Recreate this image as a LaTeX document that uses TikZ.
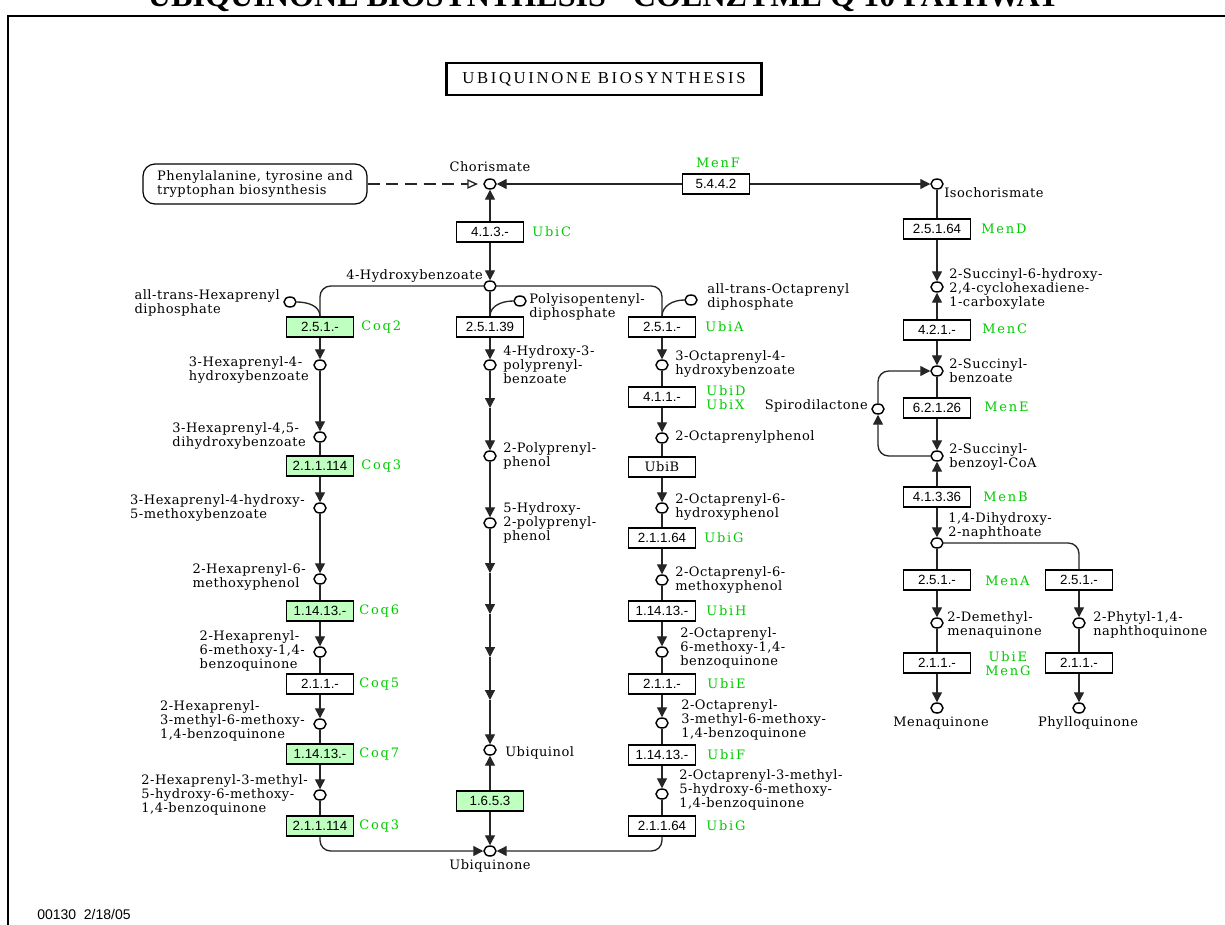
\documentclass[tikz,border=0pt]{standalone}
\usepackage{fontspec}
\setmainfont{DejaVu Serif}
\newfontfamily\cpdf[LetterSpace=4]{DejaVu Serif}
\newfontfamily\ecf{Liberation Sans}
\newfontfamily\genef[LetterSpace=14]{DejaVu Serif}
\newfontfamily\boxtitlef[LetterSpace=16]{Liberation Serif}
\newfontfamily\toptitlef{Liberation Serif}
\usetikzlibrary{arrows.meta,shapes.geometric}
\definecolor{kgreen}{RGB}{0,204,0}
\definecolor{kfill}{RGB}{191,255,191}
\begin{document}
\begin{tikzpicture}[x=0.75pt,y=-0.75pt,
 cpd/.style={ellipse,draw,line width=1.1pt,fill=white,minimum width=9pt,minimum height=7.5pt,inner sep=0pt},
 ecbox/.style={rectangle,draw,line width=1pt,fill=white,minimum width=50pt,minimum height=15pt,inner sep=1pt,font=\ecf\fontsize{10pt}{12pt}\selectfont},
 ecg/.style={ecbox,fill=kfill},
 gene/.style={anchor=west,inner sep=0pt,text=kgreen,font=\genef\fontsize{9.75pt}{10.5pt}\selectfont,align=left},
 lbl/.style={inner sep=0pt,align=left,font=\cpdf\fontsize{9.75pt}{10.5pt}\selectfont},
 rxn/.style={line width=1pt,draw=black!85},
 arr/.style={rxn,-{Triangle[length=7.5pt,width=7.5pt]}},
]
\useasboundingbox (0,0) rectangle (1225,925);
\fill[white] (0,0) rectangle (1225,925);
% frame and titles
\draw[line width=1.5pt] (8,16) rectangle (1240,940);
\node[anchor=base,inner sep=0pt] (toptitle) at (604,6) {\resizebox{684pt}{!}{\toptitlef\bfseries UBIQUINONE BIOSYNTHESIS - COENZYME Q 10 PATHWAY}};
\node[draw,line width=2pt,minimum width=236pt,minimum height=24pt,inner sep=0pt,font=\boxtitlef\fontsize{12.5pt}{14pt}\selectfont] (title) at (604,79) {UBIQUINONE BIOSYNTHESIS};
\node[anchor=west,inner sep=0pt,font=\ecf\fontsize{10.5pt}{12pt}\selectfont] (footer) at (37,914) {00130\ \ 2/18/05};

% top row
\node[cpd] (chor) at (490,184) {};
\node[lbl] (tchor) at (490,167) {Chorismate};
\node[lbl,draw,line width=0.9pt,rounded corners=9pt,minimum width=168pt,minimum height=30pt] (phe) at (255,184) {Phenylalanine, tyrosine and\\tryptophan biosynthesis};
\coordinate (opentip) at (478,184);
\node[ecbox] (ec5442) at (716,184) {5.4.4.2};
\node[gene,anchor=center] (gMenF) at (718,163) {MenF};
\node[cpd] (isoch) at (937,184) {};
\node[lbl,anchor=west] (tisoch) at (944,193) {Isochorismate};
\node[ecbox] (ec413) at (490,232) {4.1.3.-};
\node[gene] (gUbiC) at (532,232) {UbiC};
\node[cpd] (hb) at (490,286) {};
\node[lbl,anchor=east] (thb) at (483,276) {4-Hydroxybenzoate};

% prenyl diphosphates
\node[cpd] (hexpp) at (290,302) {};
\node[lbl,anchor=east] (thexpp) at (280,303) {all-trans-Hexaprenyl\\diphosphate};
\node[cpd] (polypp) at (520,301) {};
\node[lbl,anchor=west] (tpolypp) at (529,307) {Polyisopentenyl-\\diphosphate};
\node[cpd] (octpp) at (691,300) {};
\node[lbl,anchor=west] (toctpp) at (707,297) {all-trans-Octaprenyl\\diphosphate};

% left column (Coq)
\node[ecg] (coq2) at (320,327) {2.5.1.-};
\node[gene] (gcoq2) at (361,327) {Coq2};
\node[cpd] (c1) at (320,365) {};
\node[lbl,anchor=east] (tc1) at (309,370) {3-Hexaprenyl-4-\\hydroxybenzoate};
\node[cpd] (c2) at (320,437) {};
\node[lbl,anchor=east] (tc2) at (306,436) {3-Hexaprenyl-4,5-\\dihydroxybenzoate};
\node[ecg] (coq3a) at (320,466) {2.1.1.114};
\node[gene] (gcoq3a) at (361,466) {Coq3};
\node[cpd] (c3) at (320,508) {};
\node[lbl,anchor=east] (tc3) at (305,508) {3-Hexaprenyl-4-hydroxy-\\5-methoxybenzoate};
\node[cpd] (c4) at (320,579) {};
\node[lbl,anchor=east] (tc4) at (306,577) {2-Hexaprenyl-6-\\methoxyphenol};
\node[ecg] (coq6) at (320,611) {1.14.13.-};
\node[gene] (gcoq6) at (359,611) {Coq6};
\node[cpd] (c5) at (320,652) {};
\node[lbl,anchor=east] (tc5) at (305,651) {2-Hexaprenyl-\\6-methoxy-1,4-\\benzoquinone};
\node[ecbox] (coq5) at (320,684) {2.1.1.-};
\node[gene] (gcoq5) at (359,684) {Coq5};
\node[cpd] (c6) at (320,724) {};
\node[lbl,anchor=east] (tc6) at (305,721) {2-Hexaprenyl-\\3-methyl-6-methoxy-\\1,4-benzoquinone};
\node[ecg] (coq7) at (320,754) {1.14.13.-};
\node[gene] (gcoq7) at (359,754) {Coq7};
\node[cpd] (c7) at (320,795) {};
\node[lbl,anchor=east] (tc7) at (308,795) {2-Hexaprenyl-3-methyl-\\5-hydroxy-6-methoxy-\\1,4-benzoquinone};
\node[ecg] (coq3b) at (320,826) {2.1.1.114};
\node[gene] (gcoq3b) at (359,826) {Coq3};

% middle column
\node[ecbox] (ec25139) at (490,327) {2.5.1.39};
\node[cpd] (m1) at (490,365) {};
\node[lbl,anchor=west] (tm1) at (503,365) {4-Hydroxy-3-\\polyprenyl-\\benzoate};
\coordinate (ma0) at (490,408);
\node[cpd] (m2) at (490,456) {};
\node[lbl,anchor=west] (tm2) at (503,456) {2-Polyprenyl-\\phenol};
\node[cpd] (m3) at (490,523) {};
\node[lbl,anchor=west] (tm3) at (503,523) {5-Hydroxy-\\2-polyprenyl-\\phenol};
\coordinate (ma1) at (490,573);
\coordinate (ma2) at (490,614);
\coordinate (ma3) at (490,657);
\coordinate (ma4) at (490,700);
\node[cpd] (uql) at (490,750) {};
\node[lbl,anchor=west] (tuql) at (505,753) {Ubiquinol};
\node[ecg] (ec1653) at (490,801) {1.6.5.3};
\node[cpd] (uq) at (490,851) {};
\node[lbl] (tuq) at (490,866) {Ubiquinone};

% right column (Ubi)
\node[ecbox] (ubiA) at (662,327) {2.5.1.-};
\node[gene] (gubiA) at (705,327) {UbiA};
\node[cpd] (o1) at (662,365) {};
\node[lbl,anchor=west] (to1) at (675,364) {3-Octaprenyl-4-\\hydroxybenzoate};
\node[ecbox] (ec411) at (662,397) {4.1.1.-};
\node[gene] (gubiD) at (706,398) {UbiD\\UbiX};
\node[cpd] (o2) at (662,438) {};
\node[lbl,anchor=west] (to2) at (675,437) {2-Octaprenylphenol};
\node[ecbox,font=\cpdf\fontsize{9.75pt}{10.5pt}\selectfont] (ubiB) at (662,467) {UbiB};
\node[cpd] (o3) at (662,508) {};
\node[lbl,anchor=west] (to3) at (675,507) {2-Octaprenyl-6-\\hydroxyphenol};
\node[ecbox] (ubiG1) at (662,538) {2.1.1.64};
\node[gene] (gubiG1) at (704,538) {UbiG};
\node[cpd] (o4) at (662,580) {};
\node[lbl,anchor=west] (to4) at (675,580) {2-Octaprenyl-6-\\methoxyphenol};
\node[ecbox] (ubiH) at (662,611) {1.14.13.-};
\node[gene] (gubiH) at (706,611) {UbiH};
\node[cpd] (o5) at (662,652) {};
\node[lbl,anchor=west] (to5) at (680,648) {2-Octaprenyl-\\6-methoxy-1,4-\\benzoquinone};
\node[ecbox] (ubiE) at (662,684) {2.1.1.-};
\node[gene] (gubiE) at (707,684) {UbiE};
\node[cpd] (o6) at (662,723) {};
\node[lbl,anchor=west] (to6) at (681,720) {2-Octaprenyl-\\3-methyl-6-methoxy-\\1,4-benzoquinone};
\node[ecbox] (ubiF) at (662,755) {1.14.13.-};
\node[gene] (gubiF) at (707,755) {UbiF};
\node[cpd] (o7) at (662,794) {};
\node[lbl,anchor=west] (to7) at (679,790) {2-Octaprenyl-3-methyl-\\5-hydroxy-6-methoxy-\\1,4-benzoquinone};
\node[ecbox] (ubiG2) at (662,826) {2.1.1.64};
\node[gene] (gubiG2) at (706,826) {UbiG};

% menaquinone / phylloquinone
\node[ecbox] (menD) at (937,229) {2.5.1.64};
\node[gene] (gmenD) at (981,229) {MenD};
\node[cpd] (r1) at (937,287) {};
\node[lbl,anchor=west] (tr1) at (949,289) {2-Succinyl-6-hydroxy-\\2,4-cyclohexadiene-\\1-carboxylate};
\node[ecbox] (menC) at (937,330) {4.2.1.-};
\node[gene] (gmenC) at (982,329) {MenC};
\node[cpd] (r2) at (937,371) {};
\node[lbl,anchor=west] (tr2) at (949,371) {2-Succinyl-\\benzoate};
\node[ecbox] (menE) at (937,408) {6.2.1.26};
\node[gene] (gmenE) at (984,407) {MenE};
\node[cpd] (spiro) at (878,409) {};
\node[lbl,anchor=east] (tspiro) at (868,406) {Spirodilactone};
\node[cpd] (r3) at (937,456) {};
\node[lbl,anchor=west] (tr3) at (949,457) {2-Succinyl-\\benzoyl-CoA};
\node[ecbox] (menB) at (937,497) {4.1.3.36};
\node[gene] (gmenB) at (983,497) {MenB};
\node[cpd] (r4) at (937,543) {};
\node[lbl,anchor=west] (tr4) at (948,526) {1,4-Dihydroxy-\\2-naphthoate};
\node[ecbox] (menA) at (937,580) {2.5.1.-};
\node[gene] (gmenA) at (985,581) {MenA};
\node[ecbox] (ecphy) at (1079,580) {2.5.1.-};
\node[cpd] (r5) at (937,623) {};
\node[lbl,anchor=west] (tr5) at (947,625) {2-Demethyl-\\menaquinone};
\node[cpd] (r7) at (1079,623) {};
\node[lbl,anchor=west] (tr7) at (1093,625) {2-Phytyl-1,4-\\naphthoquinone};
\node[ecbox] (menG) at (937,663) {2.1.1.-};
\node[gene,align=center] (gmenG) at (985,664) {UbiE\\MenG};
\node[ecbox] (ecphy2) at (1079,663) {2.1.1.-};
\node[cpd] (r6) at (937,708) {};
\node[lbl] (tr6) at (941,723) {Menaquinone};
\node[cpd] (r8) at (1079,708) {};
\node[lbl] (tr8) at (1088,723) {Phylloquinone};

% ---------- connectors ----------
\draw[rxn,dash pattern=on 9pt off 5pt,-{Triangle[open,length=8pt,width=7pt]}] (phe.east) -- (opentip);
\draw[arr] (ec5442) -- (chor);
\draw[arr] (ec5442) -- (isoch);
\draw[arr] (ec413) -- (chor);
\draw[arr] (ec413) -- (hb);
\draw[rxn,rounded corners=8pt] (hb.west) -| (coq2.north);
\draw[rxn,rounded corners=8pt] (hb.east) -| (ubiA.north);
\draw[rxn] (hb) -- (ec25139);
\draw[rxn] (hexpp.east) to[out=0,in=90] (coq2.north);
\draw[rxn] (polypp.west) to[out=180,in=90] (ec25139.north);
\draw[rxn] (octpp.west) to[out=180,in=90] (ubiA.north);
% left
\draw[arr] (coq2) -- (c1);
\draw[arr] (c1) -- (c2);
\draw[rxn] (c2) -- (coq3a);
\draw[arr] (coq3a) -- (c3);
\draw[arr] (c3) -- (c4);
\draw[rxn] (c4) -- (coq6);
\draw[arr] (coq6) -- (c5);
\draw[rxn] (c5) -- (coq5);
\draw[arr] (coq5) -- (c6);
\draw[rxn] (c6) -- (coq7);
\draw[arr] (coq7) -- (c7);
\draw[rxn] (c7) -- (coq3b);
\draw[arr,rounded corners=8pt] (coq3b.south) |- (uq.west);
% middle
\draw[arr] (ec25139) -- (m1);
\draw[arr] (m1) -- (ma0);
\draw[arr] (ma0) -- (m2);
\draw[arr] (m2) -- (m3);
\draw[arr] (m3) -- (ma1);
\draw[arr] (ma1) -- (ma2);
\draw[arr] (ma2) -- (ma3);
\draw[arr] (ma3) -- (ma4);
\draw[arr] (ma4) -- (uql);
\draw[arr] (ec1653) -- (uql);
\draw[arr] (ec1653) -- (uq);
% right
\draw[arr] (ubiA) -- (o1);
\draw[rxn] (o1) -- (ec411);
\draw[arr] (ec411) -- (o2);
\draw[rxn] (o2) -- (ubiB);
\draw[arr] (ubiB) -- (o3);
\draw[rxn] (o3) -- (ubiG1);
\draw[arr] (ubiG1) -- (o4);
\draw[rxn] (o4) -- (ubiH);
\draw[arr] (ubiH) -- (o5);
\draw[rxn] (o5) -- (ubiE);
\draw[arr] (ubiE) -- (o6);
\draw[rxn] (o6) -- (ubiF);
\draw[arr] (ubiF) -- (o7);
\draw[rxn] (o7) -- (ubiG2);
\draw[arr,rounded corners=8pt] (ubiG2.south) |- (uq.east);
% mena
\draw[rxn] (isoch) -- (menD);
\draw[arr] (menD) -- (r1);
\draw[arr] (menC) -- (r1);
\draw[arr] (menC) -- (r2);
\draw[rxn] (r2) -- (menE);
\draw[arr] (menE) -- (r3);
\draw[arr,rounded corners=8pt] (r3.west) -| (spiro.south);
\draw[arr,rounded corners=8pt] (spiro.north) |- (r2.west);
\draw[arr] (menB) -- (r3);
\draw[arr] (menB) -- (r4);
\draw[rxn] (r4) -- (menA);
\draw[rxn,rounded corners=8pt] (r4.east) -| (ecphy.north);
\draw[arr] (menA) -- (r5);
\draw[rxn] (r5) -- (menG);
\draw[arr] (menG) -- (r6);
\draw[arr] (ecphy) -- (r7);
\draw[rxn] (r7) -- (ecphy2);
\draw[arr] (ecphy2) -- (r8);
\end{tikzpicture}
\end{document}
